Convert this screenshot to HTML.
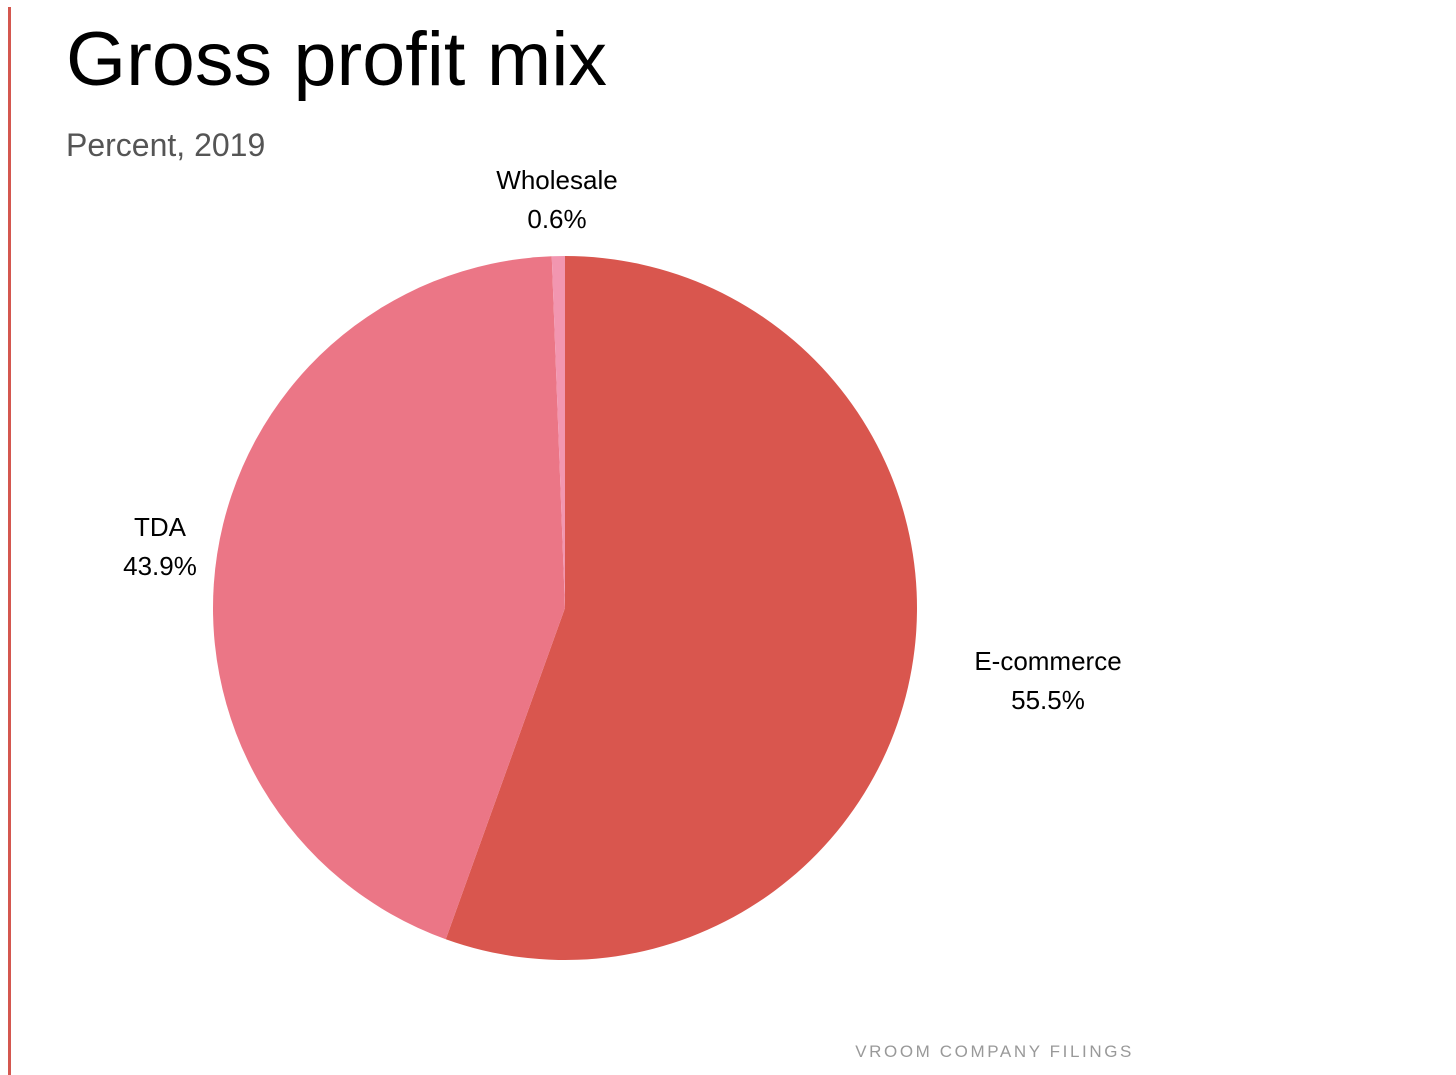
<!DOCTYPE html>
<html><head><meta charset="utf-8"><style>
html,body{margin:0;padding:0;background:#fff;}
svg{display:block;font-family:"Liberation Sans",sans-serif;}
</style></head><body>
<svg width="1456" height="1075" viewBox="0 0 1456 1075">
<rect x="8" y="7" width="3" height="1068" fill="#d4574f"/>
<text x="66" y="85" font-size="76" fill="#000" textLength="541" lengthAdjust="spacingAndGlyphs">Gross profit mix</text>
<text x="66" y="156" font-size="32" fill="#555">Percent, 2019</text>
<g id="pie"></g>
<text x="1134" y="1057" font-size="17" fill="#999" text-anchor="end" letter-spacing="2.6">VROOM COMPANY FILINGS</text>
</svg>
<script>
const categories = ["E-commerce","TDA","Wholesale"];
const values = [55.5,43.9,0.6];
const colors = ["#d9564e","#eb7686","#f296b0"];
const labelPos = [[1048,661],[160,527],[557,180]];
const cx=565, cy=608, r=352;
const g=document.getElementById('pie');
const ns='http://www.w3.org/2000/svg';
const total=values.reduce((a,b)=>a+b,0);
let a0=0;
function pt(a){return [cx+r*Math.sin(a), cy-r*Math.cos(a)];}
values.forEach((v,i)=>{
  const a1=a0+v/total*2*Math.PI;
  const p0=pt(a0), p1=pt(a1);
  const large=(a1-a0)>Math.PI?1:0;
  const path=document.createElementNS(ns,'path');
  path.setAttribute('d',`M${cx},${cy} L${p0[0]},${p0[1]} A${r},${r} 0 ${large} 1 ${p1[0]},${p1[1]} Z`);
  path.setAttribute('fill',colors[i]);
  
  
  g.appendChild(path);
  const t=document.createElementNS(ns,'text');
  t.setAttribute('x',labelPos[i][0]);t.setAttribute('y',labelPos[i][1]+9);
  t.setAttribute('font-size','26');t.setAttribute('text-anchor','middle');
  t.textContent=categories[i];
  
  
  g.appendChild(t);
  const t2=document.createElementNS(ns,'text');
  t2.setAttribute('x',labelPos[i][0]);t2.setAttribute('y',labelPos[i][1]+48);
  t2.setAttribute('font-size','26');t2.setAttribute('text-anchor','middle');
  t2.textContent=v.toFixed(1)+'%';
  
  
  g.appendChild(t2);
  a0=a1;
});
</script>
</body></html>
